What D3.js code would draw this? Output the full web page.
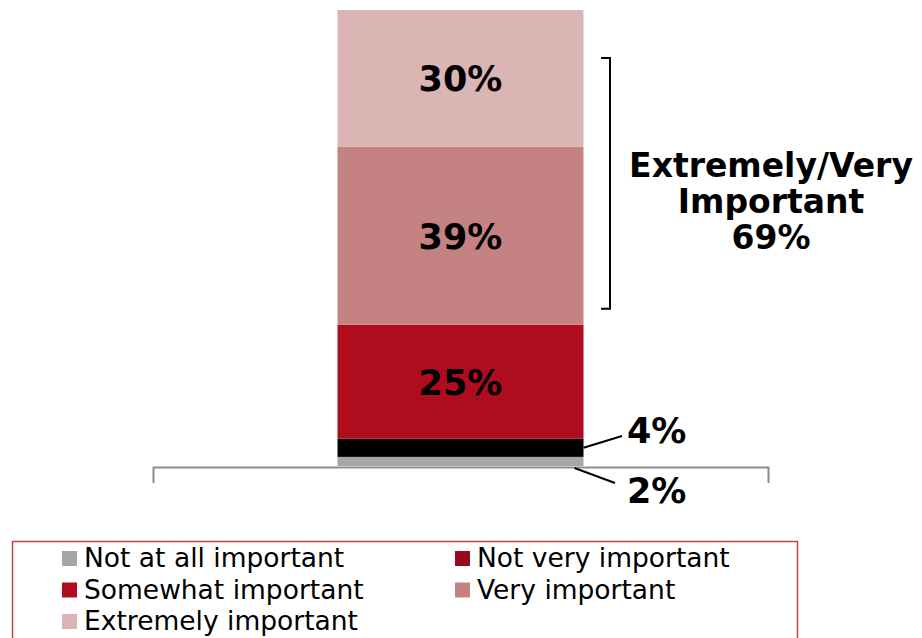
<!DOCTYPE html>
<html>
<head>
    <meta charset="utf-8">
    <script src="https://cdn.jsdelivr.net/npm/d3@7"></script>
    <style>
        body { margin: 0; background: #fff; }
        .pct { font-family: "DejaVu Sans", Verdana, sans-serif; font-weight: bold; font-size: 35px; fill: #000; }
        .summary { font-family: "DejaVu Sans", Verdana, sans-serif; font-weight: bold; font-size: 33px; fill: #000; }
        .legend text { font-family: "DejaVu Sans", Verdana, sans-serif; font-size: 26.5px; fill: #000; }
        .axis path { stroke: #8c8c8c; stroke-width: 2px; }
    </style>
</head>
<body>
<script>
    // Data, bottom segment first
    let categories = ["All"];
    let levels = ["Not at all important", "Not very important", "Somewhat important", "Very important", "Extremely important"];
    let values = [2, 4, 25, 39, 30];
    let barColors = ["#a6a6a6", "#000000", "#af0c1e", "#c48282", "#dbb4b4"];
    let legendColors = ["#a6a6a6", "#9b0a1a", "#af0c1e", "#c48282", "#dbb4b4"];
    let summaryLines = ["Extremely/Very", "Important"];

    let svg = d3.select("body").append("svg")
        .attr("width", 922)
        .attr("height", 638);

    let x = d3.scaleBand().domain(categories).range([153, 768]).padding(0.4286);
    let y = d3.scaleLinear().domain([0, 100]).range([466, 10]);

    // stack the segments
    let segs = [];
    let acc = 0;
    values.forEach(function(v, i) {
        segs.push({ name: levels[i], value: v, y0: acc, y1: acc + v, color: barColors[i] });
        acc += v;
    });

    svg.selectAll(".seg")
        .data(segs)
        .enter().append("rect")
        .attr("class", "seg")
        .attr("x", x("All"))
        .attr("width", x.bandwidth())
        .attr("y", d => y(d.y1))
        .attr("height", d => y(d.y0) - y(d.y1))
        .attr("fill", d => d.color);

    // category axis: just the baseline with end ticks
    let axis = svg.append("g")
        .attr("class", "axis")
        .attr("transform", "translate(0," + (y(0) + 1) + ")")
        .call(d3.axisBottom(x).tickSizeInner(0).tickSizeOuter(16).tickFormat(""));
    axis.selectAll(".tick").remove();
    axis.select(".domain").attr("fill", "none");

    // labels inside big segments
    svg.selectAll(".inlabel")
        .data(segs.filter(d => d.value >= 10))
        .enter().append("text")
        .attr("class", "pct")
        .attr("text-anchor", "middle")
        .attr("x", x("All") + x.bandwidth() / 2)
        .attr("y", d => (y(d.y0) + y(d.y1)) / 2 + 13)
        .text(d => d.value + "%");

    // small segments get callouts
    let right = x("All") + x.bandwidth();
    let small = segs.filter(d => d.value < 10);
    let callouts = [
        { seg: small[1], x1: right, y1: (y(small[1].y0) + y(small[1].y1)) / 2, x2: 622, y2: 436, ty: 443 },
        { seg: small[0], x1: right - 9, y1: y(0) + 2, x2: 615, y2: 483, ty: 503 }
    ];
    svg.selectAll(".leader")
        .data(callouts)
        .enter().append("line")
        .attr("x1", d => d.x1).attr("y1", d => d.y1)
        .attr("x2", d => d.x2).attr("y2", d => d.y2)
        .attr("stroke", "#000").attr("stroke-width", 2);
    svg.selectAll(".outlabel")
        .data(callouts)
        .enter().append("text")
        .attr("class", "pct")
        .attr("x", 627)
        .attr("y", d => d.ty)
        .text(d => d.seg.value + "%");

    // bracket around very + extremely
    let topTwo = segs.slice(3);
    let bTop = y(topTwo[1].y1) + 48;
    let bBot = y(topTwo[0].y0) - 16;
    svg.append("path")
        .attr("d", "M601," + bTop + "H610V" + bBot + "H601")
        .attr("fill", "none")
        .attr("stroke", "#000")
        .attr("stroke-width", 2);

    let total = d3.sum(topTwo, d => d.value);
    let summary = svg.append("text")
        .attr("class", "summary")
        .attr("text-anchor", "middle");
    summaryLines.concat([total + "%"]).forEach(function(t, i) {
        summary.append("tspan").attr("x", 771).attr("y", 177 + i * 36).text(t);
    });

    // legend
    let legend = svg.append("g").attr("class", "legend");
    legend.append("rect")
        .attr("x", 12.5).attr("y", 541.5)
        .attr("width", 785).attr("height", 130)
        .attr("fill", "none")
        .attr("stroke", "#c43c4a")
        .attr("stroke-width", 1.5);

    let item = legend.selectAll(".item")
        .data(levels)
        .enter().append("g")
        .attr("class", "item")
        .attr("transform", (d, i) => "translate(" + (i % 2 ? 455 : 62) + "," + (567 + Math.floor(i / 2) * 31.5) + ")");
    item.append("rect")
        .attr("y", -16).attr("width", 15).attr("height", 15)
        .attr("fill", (d, i) => legendColors[i]);
    item.append("text")
        .attr("x", 22)
        .text(d => d);
</script>
</body>
</html>
